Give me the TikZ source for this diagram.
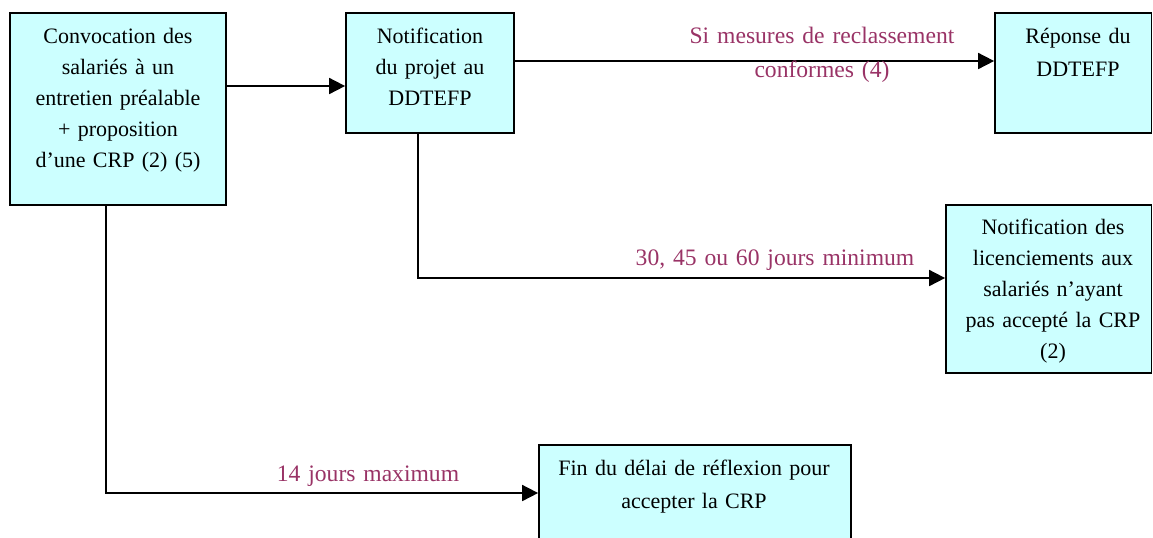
\documentclass[tikz,border=0pt]{standalone}
\usepackage{fontspec}
\setmainfont{Liberation Serif}
\usetikzlibrary{arrows.meta,fit}
\definecolor{boxfill}{HTML}{CCFFFF}
\definecolor{delay}{HTML}{993366}
\begin{document}
\begin{tikzpicture}[x=0.75pt,y=-0.75pt,
  stepbox/.style={draw=black,line width=1.3pt,fill=boxfill,inner sep=0pt},
  boxtext/.style={anchor=base,align=center,inner sep=0pt,text width=220pt,
    font=\fontsize{16.5}{23.25}\selectfont},
  delaytext/.style={anchor=base,align=center,inner sep=0pt,text width=260pt,
    text=delay,font=\fontsize{17.7}{26}\selectfont},
  arr/.style={line width=1.3pt,-{Triangle[length=12pt,width=12pt]}}]
\useasboundingbox (0,0) rectangle (1153,537);
\clip (0,0) rectangle (1153,537);

% process steps
\node[stepbox,fit={(10,13) (226,205)}] (b1) {};
\node[stepbox,fit={(346,13) (514,133)}] (b2) {};
\node[stepbox,fit={(995,13) (1151.5,133)}] (b3) {};
\node[stepbox,fit={(946,205) (1151.5,373)}] (b4) {};
\node[stepbox,fit={(539,445) (851,560)}] (b5) {};

% step texts
\node[boxtext] (t1) at (118,43) {Convocation des\\ salariés à un\\ entretien préalable\\ + proposition\\ d’une CRP (2) (5)};
\node[boxtext] (t2) at (430,43) {Notification\\ du projet au\\ DDTEFP};
\node[boxtext] (t3) at (1078,43) {Réponse du\\[1.5pt] DDTEFP};
\node[boxtext] (t4) at (1053,234) {Notification des\\ licenciements aux\\ salariés n’ayant\\ pas accepté la CRP\\ (2)};
\node[boxtext] (t5) at (694,475) {Fin du délai de réflexion pour\\[2pt] accepter la CRP};

% connectors
\draw[arr] (b1.east |- 0,86) -- (b2.west |- 0,86);
\draw[arr] (b2.east |- 0,61) -- (b3.west |- 0,61);
\draw[arr] (b2.south -| 418,0) |- (b4.west |- 0,278);
\draw[arr] (b1.south -| 106,0) |- (b5.west |- 0,493);

% delay labels
\node[delaytext] (l1) at (822,43) {Si mesures de reclassement\\ conformes (4)};
\node[delaytext] (l2) at (775,265) {30, 45 ou 60 jours minimum};
\node[delaytext] (l3) at (368,481) {14 jours maximum};
\end{tikzpicture}
\end{document}
